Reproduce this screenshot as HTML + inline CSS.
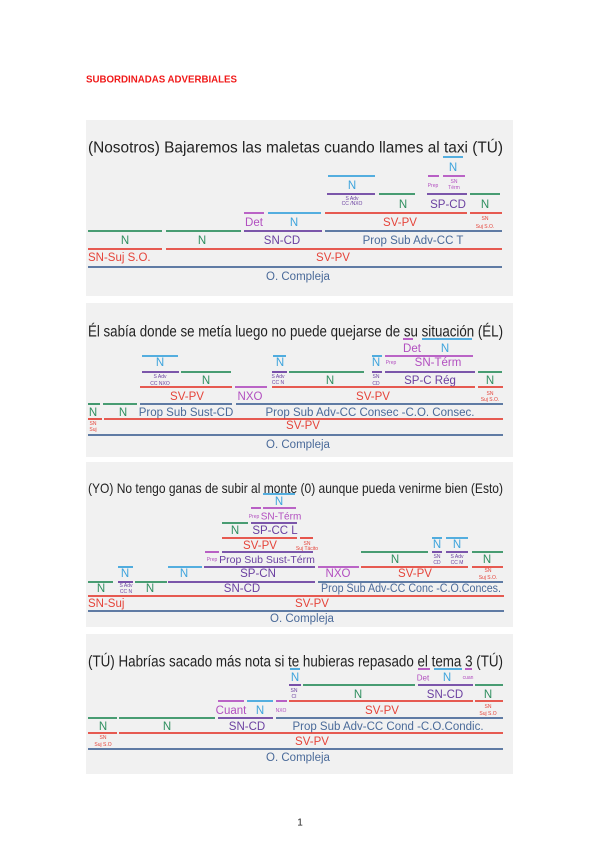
<!DOCTYPE html>
<html><head><meta charset="utf-8"><style>
body{margin:0;background:#fff}
svg{display:block;font-family:"Liberation Sans",Arial,sans-serif}
.g{stroke:#2f8f5f}.b{stroke:#3ea4dc}.p{stroke:#6a3fa0}.m{stroke:#b24fc0}.r{stroke:#e5443a}.n{stroke:#4a6a99}
line{stroke-width:1.8}
text{text-anchor:middle;dominant-baseline:central;font-size:11.5px}
.tg{fill:#2f8f5f}.tb{fill:#3ea4dc}.tp{fill:#6a3fa0}.tm{fill:#b24fc0}.tr{fill:#e5443a}.tn{fill:#4a6a99}
.s{font-size:5px}.t{font-size:15.5px;fill:#222;text-anchor:start}
</style></head><body>
<svg width="600" height="848" viewBox="0 0 600 848">
<text x="86" y="80" textLength="151" lengthAdjust="spacingAndGlyphs" style="text-anchor:start;font-size:10px;font-weight:bold;fill:#f01818">SUBORDINADAS ADVERBIALES</text>
<rect x="86" y="120" width="427" height="176" fill="#f1f1f1"/>
<rect x="86" y="303" width="427" height="154" fill="#f1f1f1"/>
<rect x="86" y="462" width="427" height="165" fill="#f1f1f1"/>
<rect x="86" y="634" width="427" height="140" fill="#f1f1f1"/>

<!-- Panel 1 -->
<text class="t" x="88" y="148" textLength="415" lengthAdjust="spacingAndGlyphs">(Nosotros) Bajaremos las maletas cuando llames al taxi (TÚ)</text>
<line class="b" x1="443" y1="157" x2="463" y2="157"/>
<text class="tb" x="453" y="168">N</text>
<line class="m" x1="428" y1="176" x2="439" y2="176"/><line class="m" x1="443" y1="176" x2="465" y2="176"/>
<text class="tm s" x="433" y="186">Prep</text><text class="tm s" x="454" y="182">SN</text><text class="tm s" x="454" y="188">Térm</text>
<line class="b" x1="328" y1="176" x2="375" y2="176"/><text class="tb" x="352" y="186">N</text>
<line class="p" x1="327" y1="194" x2="375" y2="194"/>
<text class="tp s" x="352" y="199">S Adv</text><text class="tp s" x="352" y="204">CC /NXO</text>
<line class="g" x1="379" y1="194" x2="415" y2="194"/><text class="tg" x="403" y="205">N</text>
<line class="p" x1="427" y1="194" x2="467" y2="194"/><text class="tp" x="448" y="205">SP-CD</text>
<line class="g" x1="470" y1="194" x2="500" y2="194"/><text class="tg" x="485" y="205">N</text>
<line class="r" x1="325" y1="213" x2="467" y2="213"/><text class="tr" x="400" y="223">SV-PV</text>
<line class="r" x1="470" y1="213" x2="502" y2="213"/>
<text class="tr s" x="485" y="219">SN</text><text class="tr s" x="485" y="227">Suj S.O.</text>
<line class="m" x1="244" y1="213" x2="264" y2="213"/><text class="tm" x="254" y="223">Det</text>
<line class="b" x1="268" y1="213" x2="321" y2="213"/><text class="tb" x="294" y="223">N</text>
<line class="g" x1="88" y1="231" x2="162" y2="231"/><line class="g" x1="166" y1="231" x2="241" y2="231"/>
<line class="p" x1="244" y1="231" x2="322" y2="231"/><line class="n" x1="325" y1="231" x2="502" y2="231"/>
<text class="tg" x="125" y="241">N</text><text class="tg" x="202" y="241">N</text>
<text class="tp" x="282" y="241">SN-CD</text><text class="tn" x="413" y="241">Prop Sub Adv-CC T</text>
<line class="r" x1="88" y1="249" x2="162" y2="249"/><line class="r" x1="166" y1="249" x2="502" y2="249"/>
<text class="tr" x="88" y="258" style="text-anchor:start">SN-Suj S.O.</text><text class="tr" x="333" y="258">SV-PV</text>
<line class="n" x1="88" y1="267" x2="502" y2="267"/>
<text class="tn" x="298" y="277">O. Compleja</text>

<!-- Panel 2 -->
<text class="t" x="88" y="332" textLength="415" lengthAdjust="spacingAndGlyphs">Él sabía donde se metía luego no puede quejarse de su situación (ÉL)</text>
<line class="m" x1="403" y1="339" x2="413" y2="339"/><line class="b" x1="422" y1="339" x2="472" y2="339"/>
<text class="tm" x="412" y="349">Det</text><text class="tb" x="445" y="349">N</text>
<line class="b" x1="142" y1="356" x2="178" y2="356"/><line class="b" x1="273" y1="356" x2="286" y2="356"/>
<line class="b" x1="372" y1="356" x2="382" y2="356"/><line class="m" x1="385" y1="356" x2="473" y2="356"/>
<text class="tb" x="160" y="363">N</text><text class="tb" x="280" y="363">N</text><text class="tb" x="376" y="363">N</text>
<text class="tm s" x="391" y="363">Prep</text><text class="tm" x="438" y="363">SN-Térm</text>
<line class="p" x1="142" y1="372" x2="179" y2="372"/><line class="p" x1="272" y1="372" x2="287" y2="372"/>
<line class="p" x1="372" y1="372" x2="382" y2="372"/><line class="p" x1="385" y1="372" x2="475" y2="372"/>
<line class="g" x1="181" y1="372" x2="231" y2="372"/><line class="g" x1="289" y1="372" x2="364" y2="372"/><line class="g" x1="478" y1="372" x2="502" y2="372"/>
<text class="tp s" x="160" y="377">S Adv</text><text class="tp s" x="160" y="384">CC NXO</text>
<text class="tg" x="206" y="381">N</text>
<text class="tp s" x="278" y="377">S Adv</text><text class="tp s" x="278" y="383">CC N</text>
<text class="tg" x="330" y="381">N</text>
<text class="tp s" x="376" y="377">SN</text><text class="tp s" x="376" y="384">CD</text>
<text class="tp" x="430" y="381">SP-C Rég</text><text class="tg" x="490" y="381">N</text>
<line class="r" x1="140" y1="387" x2="232" y2="387"/><line class="m" x1="235" y1="387" x2="267" y2="387"/>
<line class="r" x1="272" y1="387" x2="475" y2="387"/><line class="r" x1="478" y1="387" x2="503" y2="387"/>
<text class="tr" x="187" y="397">SV-PV</text><text class="tm" x="250" y="397">NXO</text><text class="tr" x="373" y="397">SV-PV</text>
<text class="tr s" x="490" y="394">SN</text><text class="tr s" x="490" y="400">Suj S.O.</text>
<line class="g" x1="88" y1="404" x2="100" y2="404"/><line class="g" x1="103" y1="404" x2="137" y2="404"/>
<line class="n" x1="140" y1="404" x2="232" y2="404"/><line class="n" x1="236" y1="404" x2="503" y2="404"/>
<text class="tg" x="93" y="413">N</text><text class="tg" x="123" y="413">N</text>
<text class="tn" x="186" y="413">Prop Sub Sust-CD</text><text class="tn" x="370" y="413">Prop Sub Adv-CC Consec -C.O. Consec.</text>
<line class="r" x1="88" y1="419" x2="102" y2="419"/><line class="r" x1="104" y1="419" x2="503" y2="419"/>
<text class="tr s" x="93" y="424">SN</text><text class="tr s" x="93" y="430">Suj</text>
<text class="tr" x="303" y="426">SV-PV</text>
<line class="n" x1="88" y1="435" x2="503" y2="435"/>
<text class="tn" x="298" y="445">O. Compleja</text>

<!-- Panel 3 -->
<text class="t" x="88" y="488" textLength="415" lengthAdjust="spacingAndGlyphs" style="font-size:14px">(YO) No tengo ganas de subir al monte (0) aunque pueda venirme bien (Esto)</text>
<line class="b" x1="263" y1="494" x2="295" y2="494"/><text class="tb" x="279" y="502">N</text>
<line class="m" x1="251" y1="508" x2="261" y2="508"/><line class="m" x1="263" y1="508" x2="296" y2="508"/>
<text class="tm s" x="254" y="517">Prep</text><text class="tm" x="281" y="517" style="font-size:10px">SN-Térm</text>
<line class="g" x1="222" y1="523" x2="248" y2="523"/><line class="p" x1="251" y1="523" x2="297" y2="523"/>
<text class="tg" x="235" y="531">N</text><text class="tp" x="275" y="531">SP-CC L</text>
<line class="r" x1="222" y1="538" x2="297" y2="538"/><line class="r" x1="300" y1="538" x2="313" y2="538"/>
<text class="tr" x="260" y="546">SV-PV</text><text class="tr s" x="307" y="544">SN</text><text class="tr s" x="307" y="549">Suj Tácito</text>
<line class="b" x1="432" y1="538" x2="442" y2="538"/><line class="b" x1="446" y1="538" x2="468" y2="538"/>
<text class="tb" x="437" y="545">N</text><text class="tb" x="457" y="545">N</text>
<line class="m" x1="205" y1="552" x2="219" y2="552"/><line class="p" x1="222" y1="552" x2="313" y2="552"/>
<line class="g" x1="361" y1="552" x2="428" y2="552"/><line class="p" x1="432" y1="552" x2="442" y2="552"/>
<line class="p" x1="446" y1="552" x2="468" y2="552"/><line class="g" x1="472" y1="552" x2="503" y2="552"/>
<text class="tm s" x="212" y="560">Prep</text><text class="tp" x="267" y="560" style="font-size:10.5px">Prop Sub Sust-Térm</text>
<text class="tg" x="395" y="560">N</text>
<text class="tp s" x="437" y="557">SN</text><text class="tp s" x="437" y="563">CD</text>
<text class="tp s" x="457" y="557">S Adv</text><text class="tp s" x="457" y="563">CC M</text>
<text class="tg" x="487" y="560">N</text>
<line class="b" x1="118" y1="567" x2="133" y2="567"/><line class="b" x1="168" y1="567" x2="202" y2="567"/>
<line class="p" x1="204" y1="567" x2="315" y2="567"/><line class="m" x1="318" y1="567" x2="359" y2="567"/>
<line class="r" x1="361" y1="567" x2="468" y2="567"/><line class="r" x1="472" y1="567" x2="503" y2="567"/>
<text class="tb" x="125" y="574">N</text><text class="tb" x="184" y="574">N</text>
<text class="tp" x="258" y="574">SP-CN</text><text class="tm" x="338" y="574">NXO</text>
<text class="tr" x="415" y="574">SV-PV</text>
<text class="tr s" x="488" y="571">SN</text><text class="tr s" x="488" y="578">Suj S.O.</text>
<line class="g" x1="88" y1="582" x2="113" y2="582"/><line class="p" x1="118" y1="582" x2="133" y2="582"/>
<line class="g" x1="135" y1="582" x2="167" y2="582"/><line class="p" x1="168" y1="582" x2="315" y2="582"/>
<line class="n" x1="318" y1="582" x2="503" y2="582"/>
<text class="tg" x="101" y="589">N</text>
<text class="tp s" x="126" y="586">S Adv</text><text class="tp s" x="126" y="592">CC N</text>
<text class="tg" x="150" y="589">N</text><text class="tp" x="242" y="589">SN-CD</text>
<text class="tn" x="411" y="589" textLength="180" lengthAdjust="spacingAndGlyphs">Prop Sub Adv-CC Conc -C.O.Conces.</text>
<line class="r" x1="88" y1="596" x2="504" y2="596"/>
<text class="tr" x="88" y="604" style="text-anchor:start">SN-Suj</text><text class="tr" x="312" y="604">SV-PV</text>
<line class="n" x1="88" y1="611" x2="504" y2="611"/>
<text class="tn" x="302" y="619">O. Compleja</text>

<!-- Panel 4 -->
<text class="t" x="88" y="662" textLength="415" lengthAdjust="spacingAndGlyphs">(TÚ) Habrías sacado más nota si te hubieras repasado el tema 3 (TÚ)</text>
<line class="b" x1="290" y1="669" x2="300" y2="669"/><line class="m" x1="418" y1="669" x2="430" y2="669"/>
<line class="b" x1="434" y1="669" x2="462" y2="669"/><line class="m" x1="465" y1="669" x2="472" y2="669"/>
<text class="tb" x="295" y="678">N</text><text class="tm" x="423" y="678" style="font-size:8px">Det</text>
<text class="tb" x="447" y="678">N</text><text class="tm s" x="468" y="678">cuan</text>
<line class="p" x1="289" y1="685" x2="301" y2="685"/><line class="g" x1="303" y1="685" x2="415" y2="685"/>
<line class="p" x1="418" y1="685" x2="473" y2="685"/><line class="g" x1="475" y1="685" x2="503" y2="685"/>
<text class="tp s" x="294" y="691">SN</text><text class="tp s" x="294" y="697">CI</text>
<text class="tg" x="358" y="695">N</text><text class="tp" x="445" y="695">SN-CD</text><text class="tg" x="488" y="695">N</text>
<line class="m" x1="218" y1="701" x2="244" y2="701"/><line class="b" x1="247" y1="701" x2="273" y2="701"/>
<line class="m" x1="276" y1="701" x2="287" y2="701"/><line class="r" x1="289" y1="701" x2="473" y2="701"/>
<line class="r" x1="475" y1="701" x2="503" y2="701"/>
<text class="tm" x="231" y="711">Cuant</text><text class="tb" x="260" y="711">N</text><text class="tm s" x="281" y="711">NXO</text>
<text class="tr" x="382" y="711">SV-PV</text>
<text class="tr s" x="488" y="707">SN</text><text class="tr s" x="488" y="714">Suj S.O</text>
<line class="g" x1="88" y1="718" x2="117" y2="718"/><line class="g" x1="119" y1="718" x2="215" y2="718"/>
<line class="p" x1="218" y1="718" x2="273" y2="718"/><line class="n" x1="276" y1="718" x2="503" y2="718"/>
<text class="tg" x="103" y="727">N</text><text class="tg" x="167" y="727">N</text>
<text class="tp" x="247" y="727">SN-CD</text><text class="tn" x="388" y="727">Prop Sub Adv-CC Cond -C.O.Condic.</text>
<line class="r" x1="88" y1="733" x2="117" y2="733"/><line class="r" x1="119" y1="733" x2="503" y2="733"/>
<text class="tr s" x="103" y="738">SN</text><text class="tr s" x="103" y="745">Suj S.O</text>
<text class="tr" x="312" y="742">SV-PV</text>
<line class="n" x1="88" y1="749" x2="503" y2="749"/>
<text class="tn" x="298" y="758">O. Compleja</text>

<text x="300" y="823" style="font-size:10px;fill:#222">1</text>
</svg>
</body></html>
